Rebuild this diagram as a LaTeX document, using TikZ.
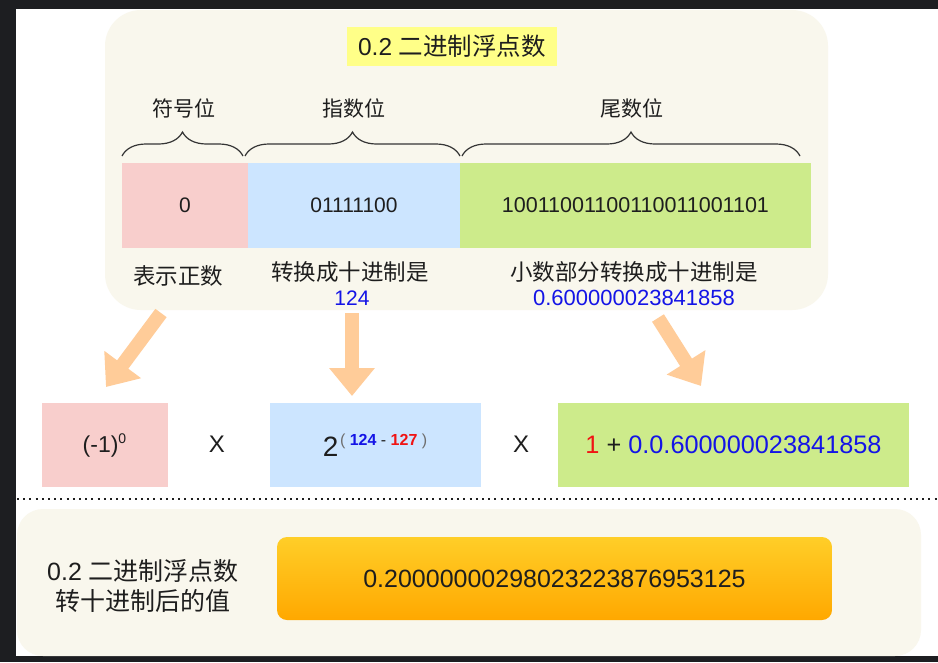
\documentclass[tikz,border=0pt]{standalone}
\usepackage{fontspec}
\setmainfont{Liberation Sans}
\newfontfamily\cjk{Noto Sans CJK SC}
\usetikzlibrary{arrows.meta,decorations.pathreplacing,shadings}
\definecolor{darkbg}{RGB}{29,30,33}
\definecolor{panel}{HTML}{F9F7ED}
\definecolor{yel}{HTML}{FFFF88}
\definecolor{pinkc}{HTML}{F8CECC}
\definecolor{bluec}{HTML}{CCE5FF}
\definecolor{greenc}{HTML}{CDEB8B}
\definecolor{arrowc}{HTML}{FFCC99}
\definecolor{txt}{RGB}{30,30,30}
\definecolor{bluet}{RGB}{20,20,230}
\definecolor{redt}{RGB}{240,20,20}
\definecolor{grayt}{RGB}{110,110,110}
\definecolor{orangetop}{RGB}{255,206,40}
\definecolor{orangebot}{RGB}{255,168,0}
\newcommand{\fsz}[1]{\fontsize{#1}{#1}\selectfont}
\begin{document}
\begin{tikzpicture}[x=1pt,y=-1pt,
  every node/.style={inner sep=0pt,outer sep=0pt,text=txt},
  cellbox/.style={minimum height=85pt,font=\fsz{21}},
  midbox/.style={minimum height=84pt},
  lbl/.style={font=\fsz{21}\cjk},
  dlbl/.style={font=\fsz{22.5}\cjk},
  bracestyle/.style={draw=txt!90,line width=1.2pt,decorate,decoration={brace,amplitude=24pt}},
  bigarrow/.style={draw=arrowc,line width=14pt,-{Triangle[length=28pt,width=44pt]}}]
\useasboundingbox (0,0) rectangle (938,662);
\fill[white] (0,0) rectangle (938,662);
\fill[darkbg] (0,0) rectangle (938,9);
\fill[darkbg] (0,0) rectangle (16,662);
\fill[darkbg] (0,656) rectangle (938,662);
% top panel
\node[fill=panel,rounded corners=36pt,minimum width=723pt,minimum height=300pt,anchor=north west] (toppanel) at (105,10) {};
\node[fill=yel,minimum width=210pt,minimum height=39pt] (title) at (452,46.5) {\fsz{24.5}0.2 {\cjk 二进制浮点数}};
% labels
\node[lbl] (lsign) at (184,108) {符号位};
\node[lbl] (lexp) at (354,108) {指数位};
\node[lbl] (lman) at (632,108) {尾数位};
% braces
\draw[bracestyle] (122,156) coordinate (b1s) -- (243,156) coordinate (b1e);
\draw[bracestyle] (245,156) coordinate (b2s) -- (460,156) coordinate (b2e);
\draw[bracestyle] (462,156) coordinate (b3s) -- (800,156) coordinate (b3e);
% bit cells
\node[cellbox,fill=pinkc,minimum width=126pt] (sign) at (185,205.5) {0};
\node[cellbox,fill=bluec,minimum width=212pt] (exp) at (354,205.5) {01111100};
\node[cellbox,fill=greenc,minimum width=351pt,font=\fsz{21.5}] (man) at (635.5,205.5) {10011001100110011001101};
% descriptions
\node[dlbl] (dsign) at (178,276) {表示正数};
\node[dlbl] (dexp) at (350,272) {转换成十进制是};
\node[font=\fsz{21},text=bluet] (vexp) at (352,298) {124};
\node[dlbl] (dman) at (634,272) {小数部分转换成十进制是};
\node[font=\fsz{22},text=bluet] (vman) at (634,298) {0.600000023841858};
% arrows
\coordinate (a1s) at (161,313);
\coordinate (a1e) at (106,387);
\coordinate (a2s) at (352,313);
\coordinate (a2e) at (352,396);
\coordinate (a3s) at (658,318);
\coordinate (a3e) at (701,386);
\draw[bigarrow] (a1s) -- (a1e);
\draw[bigarrow] (a2s) -- (a2e);
\draw[bigarrow] (a3s) -- (a3e);
% middle row
\node[midbox,fill=pinkc,minimum width=126pt] (msign) at (104.5,445) {{\fsz{23}(-1)}\raisebox{9pt}{\fsz{14}0}};
\node[font=\fsz{24}] (x1) at (217,444) {X};
\node[midbox,fill=bluec,minimum width=211pt] (mexp) at (375,445) {{\fsz{28}2}\,\raisebox{11pt}{\fsz{16}\textcolor{grayt}{(} \textcolor{bluet}{\bfseries 124} - \textcolor{redt}{\bfseries 127} \textcolor{grayt}{)}}};
\node[font=\fsz{24}] (x2) at (521,444) {X};
\node[midbox,fill=greenc,minimum width=351pt] (mman) at (733.5,445) {\fsz{25.3}\textcolor{redt}{1} + \textcolor{bluet}{0.0.600000023841858}};
% dotted separator
\coordinate (dl) at (17,499);
\coordinate (dr) at (938,499);
\draw[txt,line width=2pt,dash pattern=on 2pt off 4.2pt] (dl) -- (dr);
% bottom panel
\node[fill=panel,rounded corners=26pt,minimum width=904pt,minimum height=147pt,anchor=north west] (botpanel) at (17,509) {};
\node[align=center,font=\fontsize{25}{30}\selectfont] (reslabel) at (143,586) {0.2 {\cjk 二进制浮点数}\\{\cjk 转十进制后的值}};
\node[rounded corners=10pt,top color=orangetop,bottom color=orangebot,minimum width=555pt,minimum height=83pt] (result) at (554.5,578.5) {\fsz{25}0.20000000298023223876953125};
\end{tikzpicture}
\end{document}
